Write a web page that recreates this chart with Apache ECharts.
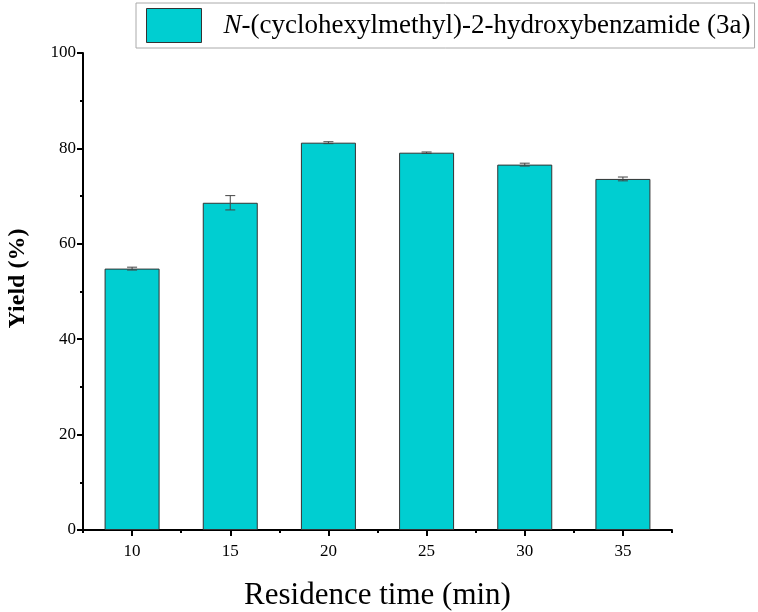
<!DOCTYPE html>
<html>
<head>
<meta charset="utf-8">
<script src="https://cdn.jsdelivr.net/npm/echarts@6/dist/echarts.min.js"></script>
<style>
  html, body { margin: 0; padding: 0; background: #fff; }
  #chart { width: 758px; height: 612px; }
</style>
</head>
<body>
<div id="chart"></div>
<script>
// residence time (min) vs yield (%)
var times = ['10', '15', '20', '25', '30', '35'];
var yields = [54.8, 68.6, 81.2, 79.1, 76.6, 73.6];
var errors = [0.3, 1.5, 0.2, 0.15, 0.3, 0.4];
var yTicks = [0, 20, 40, 60, 80, 100];

var serif = '"Liberation Serif", "Times New Roman", serif';
var chart = echarts.init(document.getElementById('chart'));

var errData = yields.map(function (v, i) {
    return [i, v - errors[i], v + errors[i]];
});

chart.setOption({
    animation: false,
    grid: { left: 83, right: 86, top: 53, bottom: 82, outerBoundsMode: 'none', containLabel: false },
    legend: {
        left: 136,
        top: 3,
        orient: 'horizontal',
        borderColor: '#aaa',
        borderWidth: 1,
        padding: [5, 4, 5, 10],
        itemWidth: 55,
        itemHeight: 34,
        icon: 'rect',
        itemStyle: { color: '#00CED1', borderColor: '#333', borderWidth: 1 },
        data: ['bars'],
        formatter: function () {
            return '{i|N}-(cyclohexylmethyl)-2-hydroxybenzamide (3a)';
        },
        textStyle: {
            fontFamily: serif,
            fontSize: 27,
            color: '#000',
            padding: [0, 0, 0, 17],
            rich: {
                i: { fontFamily: serif, fontSize: 27, fontStyle: 'italic', color: '#000' }
            }
        }
    },
    xAxis: [
        {
            type: 'category',
            data: times,
            name: 'Residence time (min)',
            nameLocation: 'middle',
            nameGap: 50,
            nameTextStyle: { fontFamily: serif, fontSize: 31, color: '#000' },
            axisLine: { lineStyle: { color: '#000', width: 2 } },
            axisTick: { show: true, alignWithLabel: true, length: 6, lineStyle: { color: '#000', width: 2 } },
            axisLabel: { fontFamily: serif, fontSize: 17, color: '#000', margin: 13 },
            splitLine: { show: false }
        },
        {
            type: 'category',
            data: times,
            position: 'bottom',
            axisLine: { show: false },
            axisTick: { show: true, length: 3, lineStyle: { color: '#000', width: 2 } },
            axisLabel: { show: false },
            splitLine: { show: false }
        }
    ],
    yAxis: {
        type: 'value',
        min: 0,
        max: 100,
        interval: 20,
        name: 'Yield (%)',
        nameLocation: 'middle',
        nameGap: 53,
        nameTextStyle: {
            fontFamily: serif, fontSize: 24, fontWeight: 'bold', color: '#000',
            padding: [0, 0, 0, 26]
        },
        axisLine: { show: true, lineStyle: { color: '#000', width: 2 } },
        axisTick: { show: true, length: 6, lineStyle: { color: '#000', width: 2 } },
        minorTick: { show: true, splitNumber: 2, length: 3, lineStyle: { color: '#000', width: 2 } },
        axisLabel: {
            fontFamily: serif, fontSize: 17, color: '#000', margin: 7,
            formatter: function (v) { return yTicks.indexOf(v) >= 0 ? String(v) : ''; }
        },
        splitLine: { show: false }
    },
    series: [
        {
            name: 'bars',
            type: 'bar',
            barWidth: 55,
            data: yields,
            itemStyle: { color: '#00CED1', borderColor: '#333', borderWidth: 1 }
        },
        {
            name: 'err',
            type: 'custom',
            data: errData,
            z: 5,
            renderItem: function (params, api) {
                var x = api.value(0);
                var lo = api.coord([x, api.value(1)]);
                var hi = api.coord([x, api.value(2)]);
                var hw = 5;
                var style = { stroke: '#444', lineWidth: 1 };
                return {
                    type: 'group',
                    children: [
                        { type: 'line', shape: { x1: lo[0], y1: lo[1], x2: hi[0], y2: hi[1] }, style: style },
                        { type: 'line', shape: { x1: lo[0] - hw, y1: lo[1], x2: lo[0] + hw, y2: lo[1] }, style: style },
                        { type: 'line', shape: { x1: hi[0] - hw, y1: hi[1], x2: hi[0] + hw, y2: hi[1] }, style: style }
                    ]
                };
            }
        }
    ]
});
</script>
</body>
</html>
